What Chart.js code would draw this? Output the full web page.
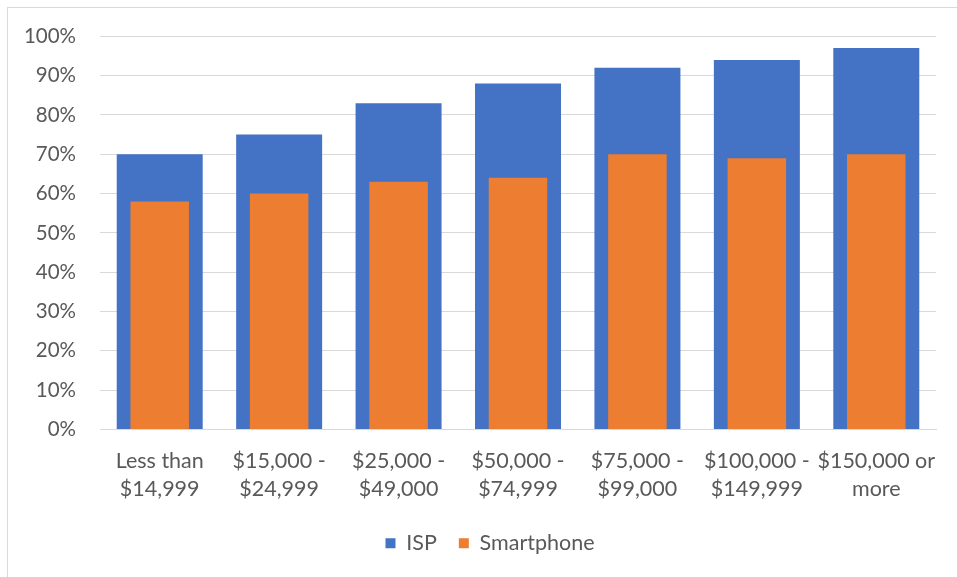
<!DOCTYPE html>
<html>
<head>
<meta charset="utf-8">
<title>ISP vs Smartphone by income</title>
<script src="https://cdn.jsdelivr.net/npm/chart.js@4.4.1/dist/chart.umd.min.js"></script>
<style>
  html, body {
    margin: 0;
    padding: 0;
    background: #ffffff;
    overflow: hidden;
  }
  #frame {
    position: absolute;
    left: 7px;
    top: 7px;
    width: 1000px;
    height: 1000px;
    border: 1px solid #d9d9d9;
    box-sizing: border-box;
  }
  #chart01 {
    position: absolute;
    left: 0;
    top: 0;
  }
</style>
</head>
<body>
<div id="frame"></div>
<canvas id="chart01" width="957" height="577"></canvas>
<script>
const incomeLabels = [
  ["Less than", "$14,999"],
  ["$15,000 -", "$24,999"],
  ["$25,000 -", "$49,000"],
  ["$50,000 -", "$74,999"],
  ["$75,000 -", "$99,000"],
  ["$100,000 -", "$149,999"],
  ["$150,000 or", "more"],
];
const ispValues = [70, 75, 83, 88, 92, 94, 97];
const smartphoneValues = [58, 60, 63, 64, 70, 69, 70];
const yTickValues = [0, 10, 20, 30, 40, 50, 60, 70, 80, 90, 100];

var ChartPage = function () {
  return {};
};

ChartPage.JS = (function () {
  const textColor = "#595959";
  const gridColor = "#d9d9d9";

  // the legend sits a little right of the canvas centre
  const legendShift = {
    id: "legendShift",
    afterLayout(chart) {
      const legend = chart.legend;
      legend.left += 22;
      legend.right += 22;
    },
  };

  return {
    init() {
      this.drawIncomeChart();
    },
    drawIncomeChart() {
      const ctx01 = document.getElementById("chart01").getContext("2d");

      const data = {
        labels: incomeLabels,
        datasets: [
          {
            label: "ISP",
            data: ispValues,
            backgroundColor: "#4472c4",
            grouped: false,
            categoryPercentage: 1,
            barPercentage: 0.72,
            order: 1,
          },
          {
            label: "Smartphone",
            data: smartphoneValues,
            backgroundColor: "#ed7d31",
            grouped: false,
            categoryPercentage: 1,
            barPercentage: 0.49,
            order: 0,
          },
        ],
      };

      const config = {
        type: "bar",
        data: data,
        plugins: [legendShift],
        options: {
          responsive: false,
          animation: false,
          layout: {
            padding: { left: 0, right: 21, top: 36, bottom: 13 },
          },
          plugins: {
            tooltip: { enabled: false },
            legend: {
              position: "bottom",
              labels: {
                color: textColor,
                font: { family: "Lato", size: 21.5 },
                boxWidth: 10,
                boxHeight: 10,
                padding: 22,
                sort: (a, b) => a.datasetIndex - b.datasetIndex,
              },
            },
          },
          scales: {
            y: {
              min: 0,
              max: 100,
              afterBuildTicks(scale) {
                scale.ticks = yTickValues.map((v) => ({ value: v }));
              },
              afterFit(scale) {
                scale.width = 100;
              },
              border: { display: false },
              grid: { color: gridColor, lineWidth: 1, drawTicks: false },
              ticks: {
                color: textColor,
                font: { family: "Lato", size: 20.5 },
                padding: 24,
                callback: (v) => v + "%",
              },
            },
            x: {
              afterFit(scale) {
                scale.height = 81;
              },
              border: { color: gridColor },
              grid: { display: false },
              ticks: {
                color: textColor,
                font: { family: "Lato", size: 21.5, lineHeight: 1.3 },
                padding: 10,
                maxRotation: 0,
                autoSkip: false,
              },
            },
          },
        },
      };

      const myChart01 = new Chart(ctx01, config);
    },
  };
})();

ChartPage.JS.init();
</script>
</body>
</html>
